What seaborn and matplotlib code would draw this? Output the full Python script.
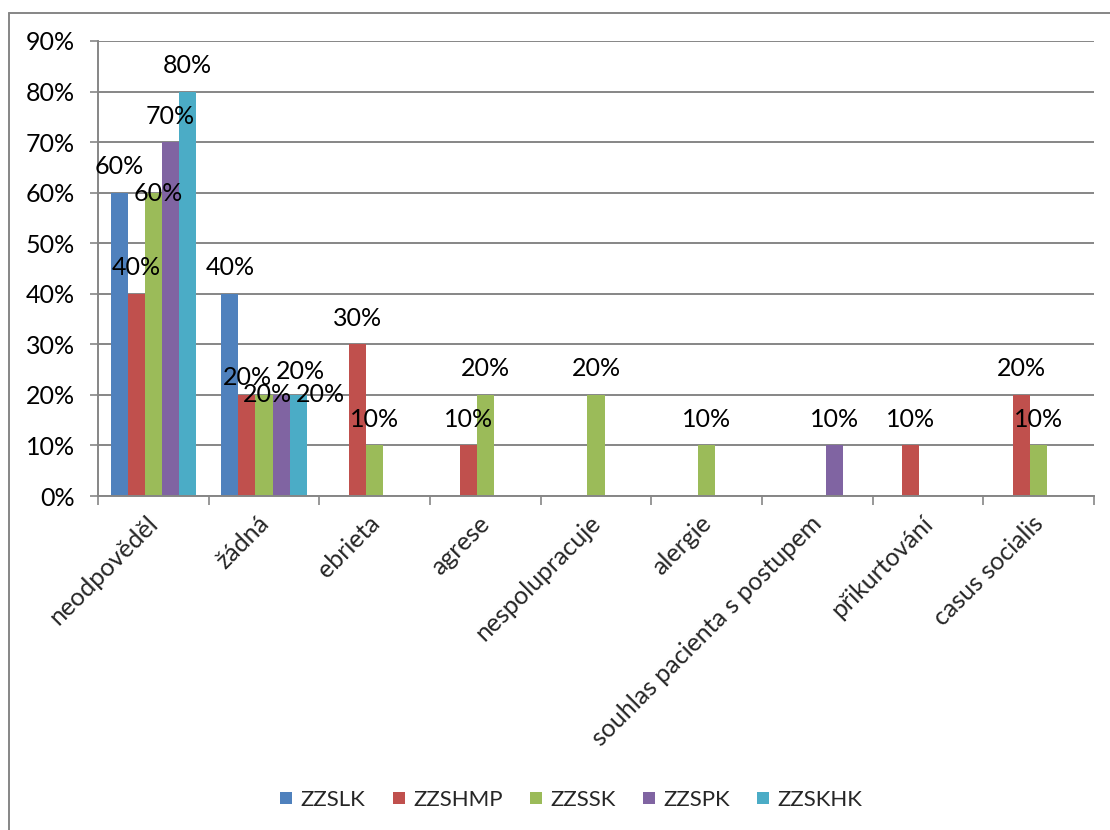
import matplotlib
matplotlib.use("Agg")
import matplotlib.pyplot as plt
from matplotlib.lines import Line2D
from matplotlib.transforms import ScaledTranslation
import seaborn as sns
import pandas as pd

# ---- data ----
categories = ["neodpověděl", "žádná", "ebrieta", "agrese", "nespolupracuje",
              "alergie", "souhlas pacienta s postupem", "přikurtování", "casus socialis"]
series_names = ["ZZSLK", "ZZSHMP", "ZZSSK", "ZZSPK", "ZZSKHK"]
zzslk = [60, 40, 0, 0, 0, 0, 0, 0, 0]
zzshmp = [40, 20, 30, 10, 0, 0, 0, 10, 20]
zzssk = [60, 20, 10, 20, 20, 10, 0, 0, 10]
zzspk = [70, 20, 0, 0, 0, 0, 10, 0, 0]
zzskhk = [80, 20, 0, 0, 0, 0, 0, 0, 0]
y_ticks = [0, 10, 20, 30, 40, 50, 60, 70, 80, 90]

colors = ["#4F81BD", "#C0504D", "#9BBB59", "#8064A2", "#4BACC6"]

# label nudges (pixels) for overlapping labels, relative to default position
nudges = {
    ("neodpověděl", "ZZSSK"): (5, -27),
    ("žádná", "ZZSHMP"): (0, -9),
    ("žádná", "ZZSSK"): (3, -26),
    ("žádná", "ZZSPK"): (19, -3),
    ("žádná", "ZZSKHK"): (22, -26),
}

values = [zzslk, zzshmp, zzssk, zzspk, zzskhk]
rows = []
for name, vals in zip(series_names, values):
    for c, v in zip(categories, vals):
        rows.append({"kategorie": c, "hodnota": v, "sluzba": name})
df = pd.DataFrame(rows)

sns.set_style("white")
plt.rcParams["font.family"] = ["Lato", "DejaVu Sans"]
FS = 18

W, H = 1110, 830
fig = plt.figure(figsize=(W / 100, H / 100), dpi=100)
ax = fig.add_axes([98 / W, 1 - 496 / H, 996 / W, 455 / H])

sns.barplot(data=df, x="kategorie", y="hodnota", hue="sluzba", order=categories,
            hue_order=series_names, palette=colors, width=0.77, saturation=1,
            linewidth=0, ax=ax, legend=False)

gc = "#868686"
ax.set_ylim(0, 90)
ax.set_xlim(-0.5, len(categories) - 0.5)
ax.set_yticks(y_ticks, labels=[f"{t}%" for t in y_ticks], fontsize=FS)
ax.yaxis.grid(True, color=gc, linewidth=1.4)
ax.xaxis.grid(False)
ax.set_axisbelow(True)
for s in ["top", "right"]:
    ax.spines[s].set_visible(False)
for s in ["left", "bottom"]:
    ax.spines[s].set_color(gc)
    ax.spines[s].set_linewidth(1.4)
ax.tick_params(axis="y", length=5.8, width=1.2, color=gc, left=True, pad=11, labelcolor="black")
ax.set_xticks([i - 0.5 for i in range(len(categories) + 1)], labels=[""] * (len(categories) + 1))
ax.tick_params(axis="x", which="major", length=6.5, width=1.2, color=gc, bottom=True)
ax.set_xticks(range(len(categories)), labels=categories, minor=True, rotation=45,
              ha="right", va="center", rotation_mode="anchor", fontsize=FS)
ax.tick_params(axis="x", which="minor", length=0, pad=17)
for lbl in ax.get_xticklabels(minor=True):
    lbl.set_transform(lbl.get_transform() + ScaledTranslation(1 / 100, 0, fig.dpi_scale_trans))
ax.set_xlabel("")
ax.set_ylabel("")

# data labels
for name, cont in zip(series_names, ax.containers):
    for cat, bar in zip(categories, cont):
        h = bar.get_height()
        if h <= 0:
            continue
        dx, dy = nudges.get((cat, name), (0, 0))
        ax.annotate(f"{h:.0f}%", (bar.get_x() + bar.get_width() / 2, h),
                    xytext=(dx * 0.72, (26 + dy) * 0.72), textcoords="offset points",
                    ha="center", va="center", fontsize=FS, color="black")

# legend
handles = [Line2D([], [], marker="s", linestyle="", markersize=9, color=c,
                  markeredgewidth=0) for c in colors]
fig.legend(handles, series_names, loc="center", bbox_to_anchor=(571 / W, 1 - 800 / H),
           ncol=5, frameon=False, fontsize=16, handlelength=0.6, handletextpad=0.35,
           columnspacing=1.2)

# chart area border
fig.add_artist(Line2D([9 / W, 9 / W], [0, 1 - 13 / H], color=gc, linewidth=1.4,
                      transform=fig.transFigure))
fig.add_artist(Line2D([9 / W, 1], [1 - 13 / H, 1 - 13 / H], color=gc, linewidth=1.4,
                      transform=fig.transFigure))

fig.savefig("out.png", dpi=100)
